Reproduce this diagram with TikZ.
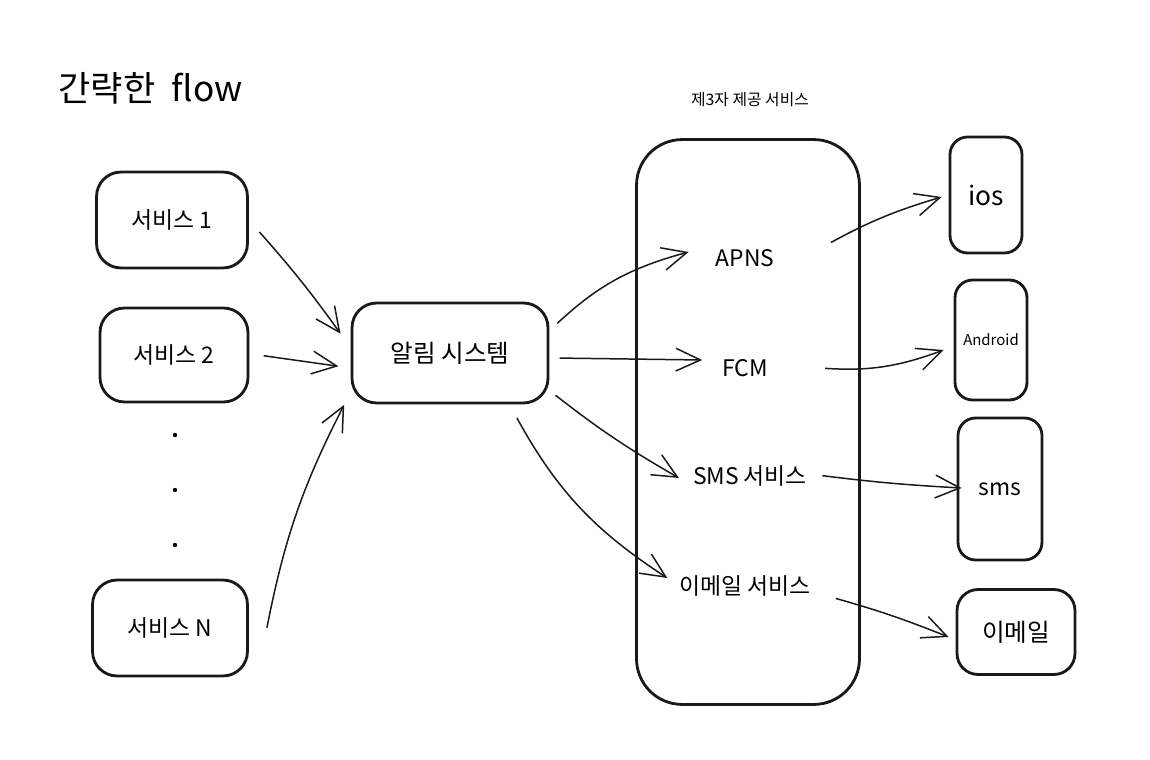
\documentclass[tikz,border=0pt]{standalone}
\usepackage{fontspec}
\setmainfont{Noto Sans CJK KR}
\usetikzlibrary{arrows.meta,calc}
\begin{document}
\begin{tikzpicture}[x=0.02cm,y=-0.02cm,
  box/.style={draw=black!90,line width=1.6pt,rounded corners=14pt,inner sep=0pt,align=center},
  lbl/.style={font=\fontsize{13}{15}\selectfont,inner sep=1pt},
  conn/.style={draw=black!90,line width=0.85pt,-{Straight Barb[length=14pt,width=13pt,line width=0.85pt]},shorten <=3pt,shorten >=3pt},
  dot/.style={circle,fill=black,inner sep=0pt,minimum size=2.5pt}]
\useasboundingbox (0,0) rectangle (1150,760);
\fill[white] (0,0) rectangle (1150,760);

% title
\node[anchor=west,inner sep=0pt,font=\fontsize{20}{24}\selectfont] (title) at (58,88) {간략한\hspace{0.25em} flow};
\node[inner sep=0pt,font=\fontsize{9}{11}\selectfont] (thirdlbl) at (750,100) {제3자 제공 서비스};

% left services
\node[box,minimum width=3.02cm,minimum height=1.92cm,font=\fontsize{13}{15}\selectfont] (s1) at (172,220) {서비스 1};
\node[box,minimum width=2.96cm,minimum height=1.88cm,font=\fontsize{13}{15}\selectfont] (s2) at (174,355) {서비스 2};
\node[box,minimum width=3.1cm,minimum height=1.92cm,font=\fontsize{13}{15}\selectfont] (sN) at (170,628) {서비스 N};
\node[dot] (d1) at (175,435) {};
\node[dot] (d2) at (175,490) {};
\node[dot] (d3) at (175,545) {};

% notification system
\node[box,minimum width=3.92cm,minimum height=2.0cm,font=\fontsize{14}{16}\selectfont] (alarm) at (450,353) {알림 시스템};

% third-party container
\node[box,rounded corners=26pt,minimum width=4.46cm,minimum height=11.3cm] (third) at (748,422) {};
\node[lbl] (apns) at (745,258) {APNS};
\node[lbl] (fcm) at (745,368) {FCM};
\node[lbl] (sms) at (750,476) {SMS 서비스};
\node[lbl] (email) at (745,586) {이메일 서비스};

% devices
\node[box,rounded corners=10pt,minimum width=1.44cm,minimum height=2.32cm,font=\fontsize{15}{17}\selectfont] (ios) at (986,195) {ios};
\node[box,rounded corners=10pt,minimum width=1.44cm,minimum height=2.4cm,font=\fontsize{8.5}{10}\selectfont] (android) at (991,340) {Android};
\node[box,rounded corners=10pt,minimum width=1.68cm,minimum height=2.84cm,font=\fontsize{13}{15}\selectfont] (smsbox) at (1000,489) {sms};
\node[box,rounded corners=12pt,minimum width=2.36cm,minimum height=1.7cm,font=\fontsize{14}{16}\selectfont] (emailbox) at (1016,632) {이메일};

% services -> alarm
\draw[conn] ($(s1.east)+(7,8)$) to[bend left=3] ($(alarm.west)+(-7,-15)$);
\draw[conn] ($(s2.east)+(9,0)$) to ($(alarm.west)+(-7,14)$);
\draw[conn] ($(sN.east)+(17,5)$) to[bend left=8] ($(alarm.west)+(-4,47)$);

% alarm -> third party
\draw[conn,shorten >=0pt] ($(alarm.east)+(4,-26)$) to[bend left=14] ($(apns.west)+(-25,-6)$);
\draw[conn,shorten >=0pt] ($(alarm.east)+(5,5)$) to ($(fcm.west)+(-18,-8)$);
\draw[conn,shorten >=0pt] ($(alarm.east)+(2,39)$) to[bend right=4] ($(sms.west)+(-12,2)$);
\draw[conn,shorten >=0pt] ($(alarm.south east)+(-35,9)$) to[bend right=14] ($(email.west)+(-10,-8)$);

% third party -> devices
\draw[conn,shorten >=0pt] ($(apns.east)+(50,-13)$) to[bend left=6] ($(ios.west)+(-7,2)$);
\draw[conn,shorten >=0pt] ($(fcm.east)+(50,0)$) to[bend right=12] ($(android.west)+(-10,10)$);
\draw[conn,shorten >=0pt] ($(sms.east)+(8,-1)$) to[bend right=2] ($(smsbox.west)+(5,-1)$);
\draw[conn,shorten >=0pt] ($(email.east)+(18,11)$) to[bend left=3] ($(emailbox.west)+(-7,5)$);
\end{tikzpicture}
\end{document}
